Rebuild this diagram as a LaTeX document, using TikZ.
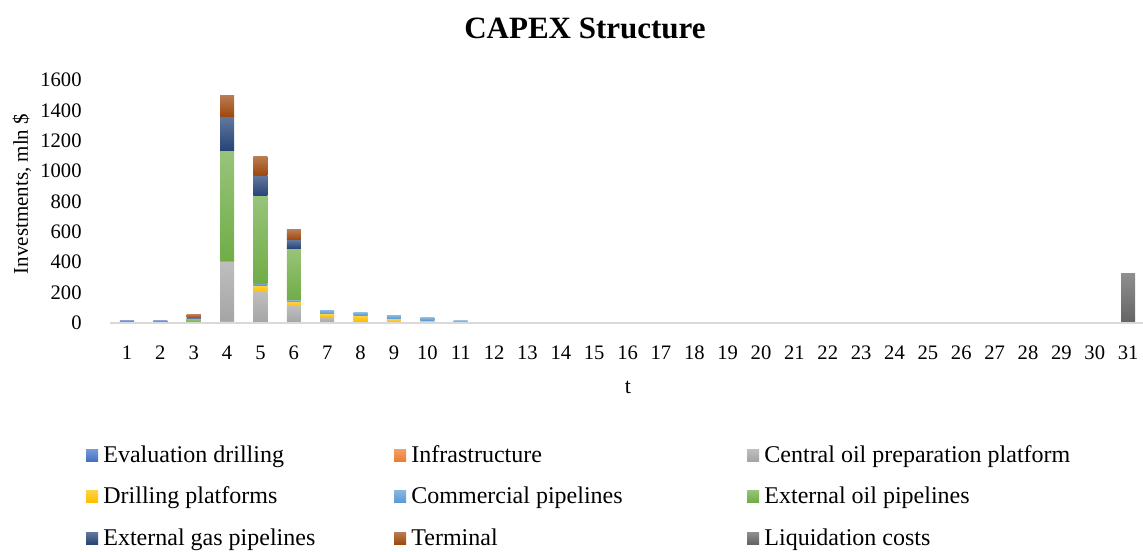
\documentclass[tikz,border=0pt]{standalone}
\usepackage{fontspec}
\setmainfont{Liberation Serif}
\definecolor{cevl}{HTML}{4472C4}
\definecolor{cinf}{HTML}{ED7D31}
\definecolor{ccent}{HTML}{A5A5A5}
\definecolor{cdrl}{HTML}{FFC000}
\definecolor{ccom}{HTML}{5B9BD5}
\definecolor{coil}{HTML}{70AD47}
\definecolor{cgas}{HTML}{264478}
\definecolor{cterm}{HTML}{9E480E}
\definecolor{cliq}{HTML}{636363}
\definecolor{caxis}{HTML}{D9D9D9}
\tikzset{
  ticklab/.style={font=\fontsize{10.3}{12}\selectfont, inner sep=0pt},
  legtext/.style={font=\fontsize{12}{14}\selectfont, inner sep=0pt},
  axisline/.style={draw=caxis, line width=1pt}
}
\begin{document}
\begin{tikzpicture}[x=0.5pt,y=0.5pt]
    \useasboundingbox (0,0) rectangle (1143,551);
    \node[font=\bfseries\fontsize{15.5}{18}\selectfont, inner sep=0pt] (title) at (585,523) {CAPEX Structure};
    \node[ticklab, font=\fontsize{10.5}{12}\selectfont, rotate=90] (ylab) at (22,357) {Investments, mln \$};
    \node[ticklab, font=\fontsize{11}{13}\selectfont] (xlab) at (628,164) {t};
    % plot area: x = year, y = mln $
    \begin{scope}[shift={(93.63,228)}, x=16.685pt, y=0.07594pt]
        \foreach \v in {0,200,...,1600}
            \node[ticklab, anchor=east] (y\v) at (-0.35,\v) {\v};
        \foreach \yr in {1,...,31}
            \node[ticklab] (x\yr) at (\yr,-197) {\yr};
        % stacked bars
        \foreach \yr/\segs in {1/{cevl/15}, 2/{cevl/15}, 3/{coil/28,cgas/5,cterm/22},
                4/{cinf/15,ccent/387,ccom/8,coil/727,cgas/224,cterm/136},
                5/{ccent/206,cdrl/44,ccom/13,coil/574,cgas/136,cterm/121},
                6/{ccent/112,cdrl/29,ccom/11,coil/338,cgas/57,cterm/66},
                7/{ccent/42,cdrl/18,ccom/24}, 8/{ccent/15,cdrl/37,ccom/17},
                9/{ccent/5,cdrl/24,ccom/22}, 10/{ccent/4,cdrl/15,ccom/16},
                11/{ccom/14}, 31/{cliq/323}}{
            \gdef\segbot{0}
            \foreach \c/\v in \segs {
                \pgfmathsetmacro\segtop{\segbot+\v}
                \shade[top color=\c!72!white, bottom color=\c] (\yr-0.21,\segbot) rectangle (\yr+0.21,\segtop);
                \global\let\segbot\segtop
            }
        }
        \draw[axisline] (0.5,0) coordinate (axl) -- (31.5,0) coordinate (axr);
    \end{scope}
    % legend
    \foreach \c/\lx/\ly/\lab in {cevl/86/89/Evaluation drilling, cinf/394/89/Infrastructure,
            ccent/747/89/Central oil preparation platform, cdrl/86/48/Drilling platforms,
            ccom/394/48/Commercial pipelines, coil/747/48/External oil pipelines,
            cgas/86/6/External gas pipelines, cterm/394/6/Terminal, cliq/747/6/Liquidation costs}{
        \shade[top color=\c!72!white, bottom color=\c] (\lx,\ly+1) rectangle ++(12,12);
        \node[legtext, anchor=base west] (leg\c) at (\lx+17,\ly) {\lab};
    }
\end{tikzpicture}
\end{document}
